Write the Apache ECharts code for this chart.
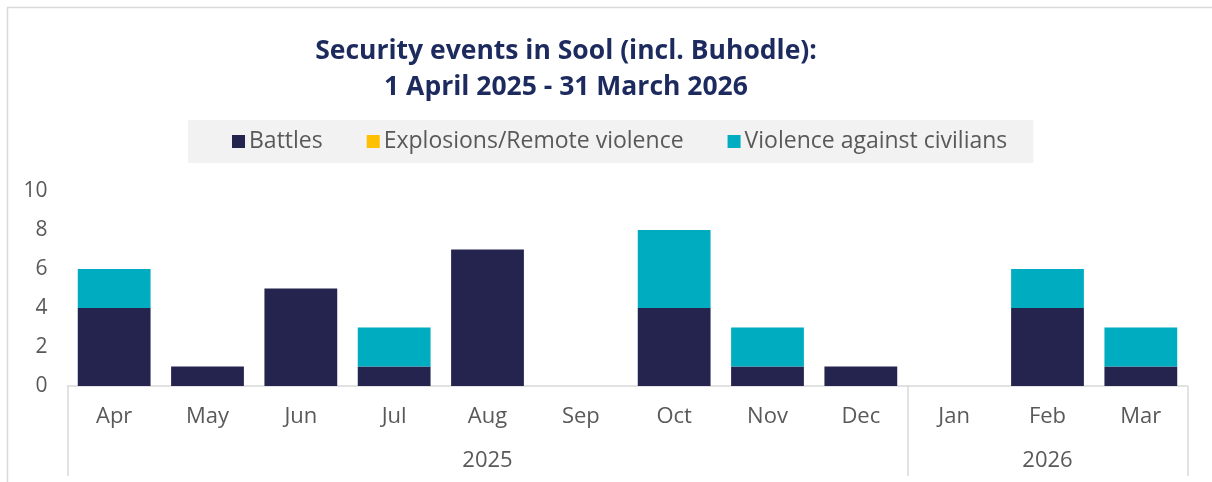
<!DOCTYPE html>
<html><head><meta charset="utf-8">
<script src="https://cdn.jsdelivr.net/npm/echarts@6/dist/echarts.min.js"></script>
<style>html,body{margin:0;padding:0;background:#fff}#c{width:1212px;height:482px}</style>
</head><body><div id="c"></div>
<script>
const months = ['Apr','May','Jun','Jul','Aug','Sep','Oct','Nov','Dec','Jan','Feb','Mar'];
const yearLabels = ['2025','2026'];
const yearSpans = [9, 3];
const battles = [4,1,5,1,7,0,4,1,1,0,4,1];
const explosions = [0,0,0,0,0,0,0,0,0,0,0,0];
const vac = [2,0,0,2,0,0,4,2,0,0,2,2];
const yTicks = [0,2,4,6,8,10];

const FONT = 'Open Sans';
const bounds = [0]; yearSpans.forEach(s => bounds.push(bounds[bounds.length-1] + s));
const centers = yearSpans.map((s,i) => bounds[i] + s/2);

const chart = echarts.init(document.getElementById('c'));
chart.setOption({
  animation: false,
  textStyle: { fontFamily: FONT },
  graphic: [{ type:'rect', shape:{x:7.5,y:7.5,width:1220,height:500}, style:{fill:'none',stroke:'#d9d9d9',lineWidth:1.5}, silent:true, z:-10 }],
  title: {
    text: 'Security events in Sool (incl. Buhodle):\n1 April 2025 - 31 March 2026',
    left: 561, top: 28, textAlign: 'center',
    textStyle: { fontFamily: FONT, fontWeight: 'bold', fontSize: 26.5, color: '#1c2a5e', lineHeight: 36 }
  },
  legend: {
    left: 188, top: 120,
    backgroundColor: '#f2f2f2',
    padding: [10, 26, 10, 44],
    itemWidth: 13, itemHeight: 13, itemGap: 44,
    icon: 'rect',
    textStyle: { fontSize: 23, color: '#595959', fontFamily: FONT, padding:[2,0,0,-1] },
    data: ['Battles','Explosions/Remote violence','Violence against civilians']
  },
  grid: { left: 67.5, right: 24.5, top: 191, bottom: 96, containLabel: false },
  xAxis: [{
    type: 'category', data: months,
    axisLine: { show: true, lineStyle: { color: '#d9d9d9', width: 1.5 } },
    axisTick: { show: false },
    axisLabel: { fontSize: 22, color: '#595959', margin: 20, fontFamily: FONT }
  }, {
    type: 'value', min: 0, max: months.length, position: 'bottom',
    splitLine: { show: false },
    axisLine: { show: false },
    axisTick: { show: true, customValues: bounds, length: 90, lineStyle: { color: '#d9d9d9', width: 1.5 } },
    axisLabel: { show: true, customValues: centers, margin: 64, fontSize: 22, color: '#595959', fontFamily: FONT,
      formatter: v => { const i = centers.indexOf(v); return i >= 0 ? yearLabels[i] : ''; } }
  }],
  yAxis: {
    type: 'value', min: 0, max: 10, interval: 2,
    splitLine: { show: false },
    axisLine: { show: false }, axisTick: { show: false },
    axisLabel: { fontSize: 21, color: '#595959', margin: 20, fontFamily: FONT,
      customValues: yTicks }
  },
  series: [
    { name: 'Battles', type: 'bar', stack: 's', data: battles, barCategoryGap: '22%', itemStyle: { color: '#25244f' } },
    { name: 'Explosions/Remote violence', type: 'bar', stack: 's', data: explosions, itemStyle: { color: '#ffc000' } },
    { name: 'Violence against civilians', type: 'bar', stack: 's', data: vac, itemStyle: { color: '#00acbf' } }
  ]
});
</script></body></html>
